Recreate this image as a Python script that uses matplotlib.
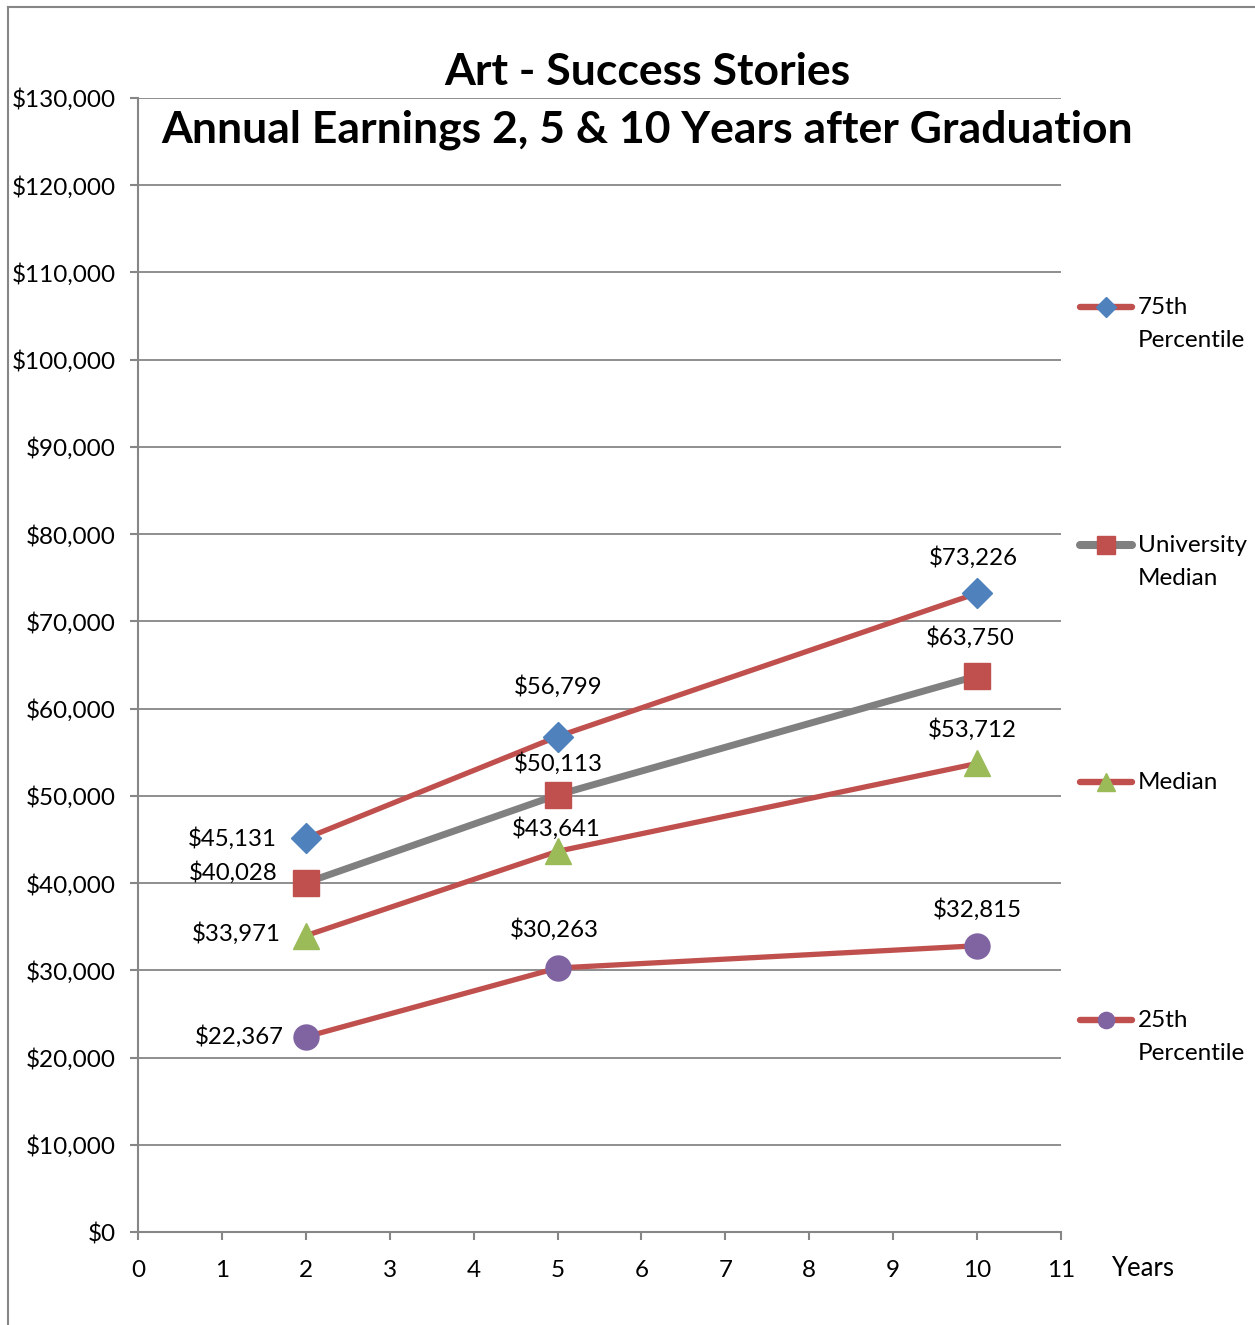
import matplotlib
matplotlib.use('Agg')
import matplotlib.pyplot as plt
from matplotlib.lines import Line2D
from matplotlib.ticker import FuncFormatter

# =============================
# DATOS
# =============================
years = [2, 5, 10]
p75 = [45131, 56799, 73226]
uni_median = [40028, 50113, 63750]
median = [33971, 43641, 53712]
p25 = [22367, 30263, 32815]

series_names = ["75th\nPercentile", "University\nMedian", "Median", "25th\nPercentile"]

RED = "#C0504D"
GRAY = "#808080"
BLUE = "#4F81BD"
GREEN = "#9BBB59"
PURPLE = "#8064A2"
AXIS = "#868686"

plt.rcParams['font.family'] = ['Lato', 'DejaVu Sans']

fig = plt.figure(figsize=(12.55, 13.25), dpi=100)
ax = fig.add_axes([138 / 1255, 93 / 1325, 923 / 1255, 1134 / 1325])

# marco del grafico (solo izquierda y arriba visibles)
fig.add_artist(Line2D([8 / 1255, 8 / 1255], [0, 1 - 7 / 1325], color=AXIS, lw=1.5))
fig.add_artist(Line2D([8 / 1255, 1], [1 - 7 / 1325, 1 - 7 / 1325], color=AXIS, lw=1.5))

# =============================
# SERIES
# =============================
estilos = [
    (p75, RED, BLUE, "D", 15, 3.8),
    (uni_median, GRAY, RED, "s", 19, 5.0),
    (median, RED, GREEN, "^", 19, 3.8),
    (p25, RED, PURPLE, "o", 18, 3.8),
]
for vals, lc, mc, mk, ms, lw in estilos:
    ax.plot(years, vals, color=lc, lw=lw, marker=mk, markersize=ms,
            markerfacecolor=mc, markeredgecolor=mc, zorder=3, clip_on=False)

# =============================
# ETIQUETAS DE DATOS
# =============================
offsets = {
    0: [(-73, 0), (1, 50), (-4, 36)],
    1: [(-73, 10), (1, 31), (-7, 38)],
    2: [(-69, 2), (-1, 23), (-5, 34)],
    3: [(-66, 0), (-3, 38), (0, 36)],
}
for i, (vals, *_r) in enumerate(estilos):
    for j, (x, v) in enumerate(zip(years, vals)):
        dx, dy = offsets[i][j]
        ax.annotate("${:,}".format(v), (x, v), xytext=(dx, dy),
                    textcoords="offset pixels", ha="center", va="center",
                    fontsize=17.3, color="black", zorder=5)

# =============================
# EJES
# =============================
ax.set_xlim(0, 11)
ax.set_ylim(0, 130000)
ax.set_xticks(range(0, 12))
ax.set_yticks(range(0, 130001, 10000))
ax.yaxis.set_major_formatter(FuncFormatter(lambda v, p: "${:,.0f}".format(v)))
ax.grid(axis="y", color=AXIS, lw=1.3)
ax.set_axisbelow(True)
for s in ["top", "right"]:
    ax.spines[s].set_visible(False)
for s in ["left", "bottom"]:
    ax.spines[s].set_color(AXIS)
    ax.spines[s].set_linewidth(1.5)
ax.tick_params(axis="both", direction="out", length=6, width=1.5, color=AXIS,
               labelsize=17.5, pad=14)
ax.tick_params(axis="y", pad=10)

fig.text(1143 / 1255, 1 - 1269 / 1325, "Years", ha="center", va="center", fontsize=18.5)

# =============================
# TITULO
# =============================
fig.text(647 / 1255, 1 - 72 / 1325, "Art - Success Stories", ha="center", va="center",
         fontsize=32, fontweight="bold")
fig.text(647 / 1255, 1 - 130 / 1325, "Annual Earnings 2, 5 & 10 Years after Graduation",
         ha="center", va="center", fontsize=32, fontweight="bold")

# =============================
# LEYENDA
# =============================
leyenda_y = [307, 545, 782, 1020]
for (vals, lc, mc, mk, ms, lw), nombre, yp in zip(estilos, series_names, leyenda_y):
    fy = 1 - yp / 1325
    fig.add_artist(Line2D([1080 / 1255, 1132 / 1255], [fy, fy], color=lc, lw=lw + 0.8,
                          solid_capstyle="round"))
    fig.add_artist(Line2D([1106 / 1255], [fy], marker=mk, markersize=ms * 0.65,
                          color=mc, markeredgecolor=mc, lw=0))
    fig.text(1138 / 1255, fy + 10 / 1325, nombre, ha="left", va="top", fontsize=17.5,
             linespacing=1.72)

fig.savefig("out.png", dpi=100)
